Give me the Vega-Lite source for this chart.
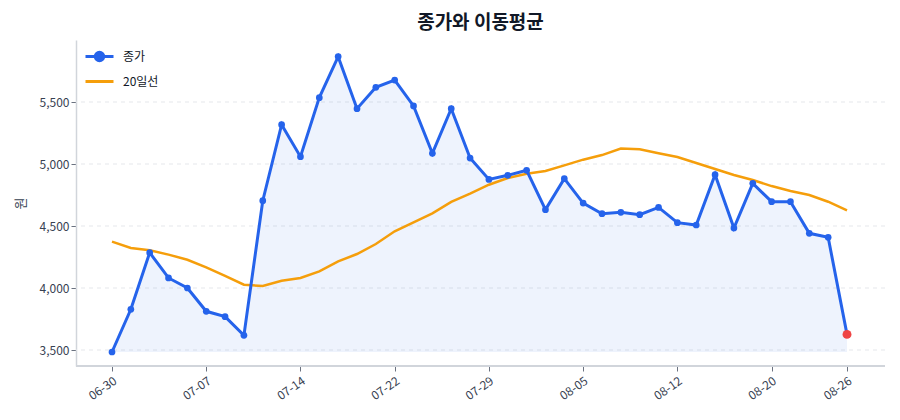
{
  "$schema": "https://vega.github.io/schema/vega-lite/v6.json",
  "autosize": "none",
  "width": 809,
  "height": 326,
  "padding": {"left": 76, "top": 40, "right": 15, "bottom": 54},
  "title": {
    "text": "종가와 이동평균",
    "fontSize": 19,
    "fontWeight": "bold",
    "color": "#111827",
    "font": "Noto Sans CJK KR",
    "offset": 7
  },
  "data": {
    "values": [
      {"date": "06-30", "close": 3484, "ma20": 4374},
      {"date": "07-01", "close": 3828, "ma20": 4323},
      {"date": "07-02", "close": 4285, "ma20": 4304},
      {"date": "07-03", "close": 4081, "ma20": 4269},
      {"date": "07-04", "close": 4000, "ma20": 4228},
      {"date": "07-07", "close": 3812, "ma20": 4167},
      {"date": "07-08", "close": 3769, "ma20": 4097},
      {"date": "07-09", "close": 3618, "ma20": 4027},
      {"date": "07-10", "close": 4704, "ma20": 4016},
      {"date": "07-11", "close": 5317, "ma20": 4059},
      {"date": "07-14", "close": 5059, "ma20": 4081},
      {"date": "07-15", "close": 5535, "ma20": 4134},
      {"date": "07-16", "close": 5866, "ma20": 4215},
      {"date": "07-17", "close": 5446, "ma20": 4274},
      {"date": "07-18", "close": 5618, "ma20": 4355},
      {"date": "07-22", "close": 5677, "ma20": 4457},
      {"date": "07-23", "close": 5468, "ma20": 4530},
      {"date": "07-24", "close": 5086, "ma20": 4602},
      {"date": "07-25", "close": 5446, "ma20": 4694},
      {"date": "07-28", "close": 5048, "ma20": 4761},
      {"date": "07-29", "close": 4876, "ma20": 4833},
      {"date": "07-30", "close": 4909, "ma20": 4887},
      {"date": "07-31", "close": 4949, "ma20": 4922},
      {"date": "08-01", "close": 4632, "ma20": 4943},
      {"date": "08-04", "close": 4882, "ma20": 4989},
      {"date": "08-05", "close": 4685, "ma20": 5035},
      {"date": "08-06", "close": 4599, "ma20": 5072},
      {"date": "08-07", "close": 4610, "ma20": 5124},
      {"date": "08-08", "close": 4591, "ma20": 5118},
      {"date": "08-11", "close": 4650, "ma20": 5086},
      {"date": "08-12", "close": 4527, "ma20": 5056},
      {"date": "08-13", "close": 4508, "ma20": 5008},
      {"date": "08-14", "close": 4914, "ma20": 4960},
      {"date": "08-18", "close": 4484, "ma20": 4911},
      {"date": "08-19", "close": 4844, "ma20": 4871},
      {"date": "08-20", "close": 4696, "ma20": 4822},
      {"date": "08-21", "close": 4696, "ma20": 4782},
      {"date": "08-22", "close": 4441, "ma20": 4750},
      {"date": "08-25", "close": 4409, "ma20": 4696},
      {"date": "08-26", "close": 3626, "ma20": 4626}
    ]
  },
  "encoding": {
    "x": {
      "field": "date",
      "type": "ordinal",
      "sort": null,
      "scale": {"type": "point", "padding": 0, "range": [36, 771]},
      "axis": {
        "title": null,
        "values": ["06-30", "07-07", "07-14", "07-22", "07-29", "08-05", "08-12", "08-20", "08-26"],
        "labelAngle": -35,
        "labelAlign": "right",
        "labelBaseline": "top",
        "labelFontSize": 12,
        "labelPadding": 4,
        "labelColor": "#374151",
        "labelFont": "Noto Sans CJK KR",
        "tickColor": "#6b7280",
        "tickSize": 5,
        "domain": false,
        "grid": false
      }
    }
  },
  "layer": [
    {
      "data": {"values": [{"level": 3500}, {"level": 4000}, {"level": 4500}, {"level": 5000}, {"level": 5500}]},
      "mark": {"type": "rule", "color": "#e5e7eb", "strokeWidth": 1, "strokeDash": [4, 4]},
      "encoding": {
        "x": null,
        "y": {"field": "level", "type": "quantitative"}
      }
    },
    {
      "mark": {"type": "area", "color": "#2563eb", "opacity": 0.08},
      "encoding": {
        "y": {"field": "close", "type": "quantitative"},
        "y2": {"datum": 3484}
      }
    },
    {
      "mark": {"type": "line", "strokeWidth": 2.5},
      "encoding": {
        "y": {"field": "ma20", "type": "quantitative"},
        "color": {"datum": "20일선"}
      }
    },
    {
      "mark": {
        "type": "line",
        "strokeWidth": 3,
        "point": {"filled": true, "size": 45}
      },
      "encoding": {
        "y": {
          "field": "close",
          "type": "quantitative",
          "title": "원",
          "scale": {"domain": [3371, 6000], "nice": false, "zero": false},
          "axis": {
            "values": [3500, 4000, 4500, 5000, 5500],
            "format": ",d",
            "labelFontSize": 12,
            "labelColor": "#374151",
            "labelFont": "Noto Sans CJK KR",
            "titleFont": "Noto Sans CJK KR",
            "titleFontSize": 13,
            "titleFontWeight": "normal",
            "titleColor": "#374151",
            "titlePadding": 12,
            "tickColor": "#6b7280",
            "tickSize": 5,
            "domainColor": "#d1d5db",
            "domainWidth": 1.5,
            "grid": false
          }
        },
        "color": {
          "datum": "종가",
          "scale": {"domain": ["종가", "20일선"], "range": ["#2563eb", "#f59e0b"]},
          "legend": {
            "title": null,
            "orient": "top-left",
            "offset": 8,
            "labelFontSize": 12,
            "labelColor": "#111827",
            "labelFont": "Noto Sans CJK KR",
            "symbolSize": 196,
            "symbolStrokeWidth": 3,
            "rowPadding": 6,
            "labelOffset": 22,
            "encode": {
              "symbols": {
                "update": {
                  "shape": {"signal": "datum.value === '종가' ? 'M-1,0H3M0.4,0A0.6,0.6 0 1,1 1.6,0A0.6,0.6 0 1,1 0.4,0Z' : 'M-1,0H3'"},
                  "fill": {"signal": "datum.value === '종가' ? '#2563eb' : 'transparent'"}
                }
              }
            }
          }
        }
      }
    },
    {
      "transform": [{"filter": "datum.date === '08-26'"}],
      "mark": {"type": "circle", "color": "#ef4444", "size": 80, "opacity": 1},
      "encoding": {
        "y": {"field": "close", "type": "quantitative"}
      }
    },
    {
      "mark": {"type": "rule", "color": "#d1d5db", "strokeWidth": 1.5},
      "encoding": {
        "x": null,
        "y": {"datum": 3371}
      }
    }
  ],
  "config": {
    "view": {"stroke": null},
    "font": "Noto Sans CJK KR"
  }
}
